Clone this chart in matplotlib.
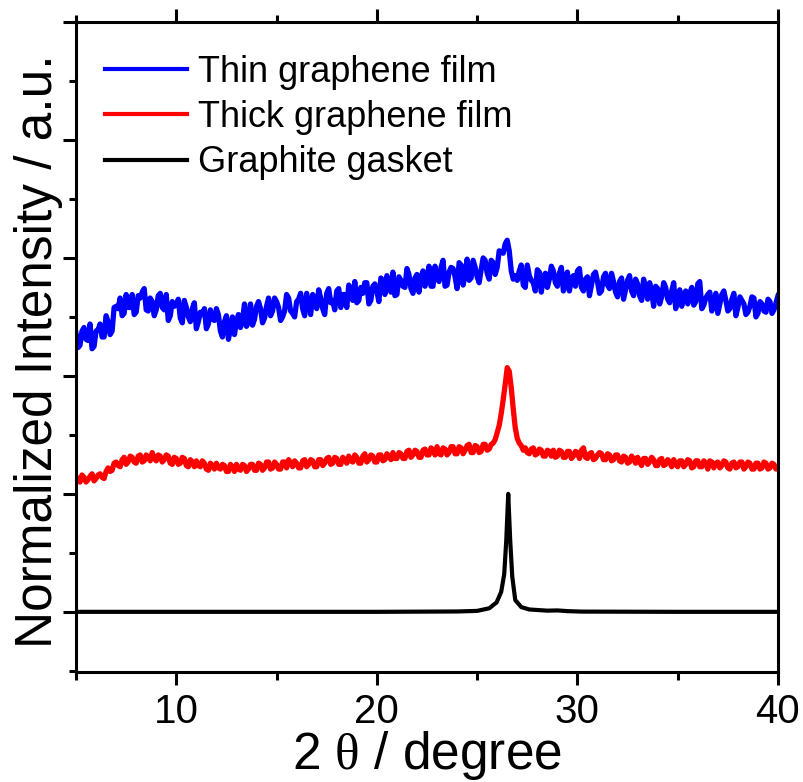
import numpy as np
import matplotlib
matplotlib.use("Agg")
import matplotlib.pyplot as plt

plt.rcParams['font.family'] = ['Liberation Sans', 'DejaVu Sans']
plt.rcParams['mathtext.fontset'] = 'custom'
plt.rcParams['mathtext.rm'] = 'Liberation Serif'
plt.rcParams['mathtext.it'] = 'Liberation Serif'

# ---- data (2theta grid, 0.1 degree step from 5 to 40) ----
x_start, x_step, n_pts = 5.0, 0.1, 351
two_theta = np.round(x_start + x_step * np.arange(n_pts), 2)

thin_film = [
    2.36, 2.24, 2.26, 2.38, 2.41, 2.31, 2.30, 2.44, 2.23, 2.25,
    2.38, 2.39, 2.44, 2.33, 2.33, 2.51, 2.46, 2.35, 2.38, 2.58,
    2.59, 2.57, 2.66, 2.51, 2.53, 2.69, 2.58, 2.58, 2.69, 2.52,
    2.54, 2.68, 2.66, 2.71, 2.74, 2.56, 2.55, 2.66, 2.63, 2.51,
    2.56, 2.68, 2.70, 2.58, 2.56, 2.69, 2.47, 2.51, 2.63, 2.59,
    2.60, 2.65, 2.49, 2.45, 2.64, 2.58, 2.50, 2.46, 2.57, 2.62,
    2.40, 2.46, 2.54, 2.52, 2.57, 2.40, 2.44, 2.56, 2.48, 2.47,
    2.57, 2.52, 2.38, 2.33, 2.46, 2.51, 2.31, 2.40, 2.50, 2.35,
    2.46, 2.52, 2.41, 2.47, 2.61, 2.42, 2.46, 2.61, 2.43, 2.48,
    2.59, 2.63, 2.57, 2.45, 2.49, 2.59, 2.66, 2.51, 2.55, 2.66,
    2.63, 2.58, 2.47, 2.50, 2.55, 2.69, 2.66, 2.55, 2.53, 2.50,
    2.63, 2.65, 2.70, 2.57, 2.51, 2.70, 2.61, 2.52, 2.69, 2.66,
    2.57, 2.73, 2.66, 2.57, 2.52, 2.70, 2.74, 2.62, 2.64, 2.56,
    2.72, 2.74, 2.58, 2.69, 2.69, 2.58, 2.77, 2.73, 2.64, 2.80,
    2.62, 2.64, 2.75, 2.70, 2.79, 2.79, 2.61, 2.64, 2.76, 2.78,
    2.72, 2.63, 2.83, 2.81, 2.69, 2.85, 2.76, 2.71, 2.88, 2.68,
    2.69, 2.84, 2.81, 2.76, 2.75, 2.91, 2.86, 2.74, 2.70, 2.83,
    2.86, 2.71, 2.83, 2.89, 2.76, 2.83, 2.93, 2.76, 2.76, 2.93,
    2.83, 2.80, 2.92, 2.98, 2.76, 2.77, 2.88, 2.92, 2.91, 2.84,
    2.74, 2.96, 2.94, 2.77, 2.86, 2.99, 2.81, 2.83, 2.98, 2.92,
    2.84, 2.79, 2.90, 3.00, 2.98, 2.87, 2.82, 2.98, 2.96, 2.86,
    2.92, 3.06, 3.05, 3.04, 3.12, 3.15, 3.06, 2.89, 2.82, 2.85,
    2.81, 2.89, 2.94, 2.77, 2.75, 2.94, 2.85, 2.81, 2.79, 2.72,
    2.90, 2.88, 2.71, 2.84, 2.87, 2.75, 2.82, 2.93, 2.89, 2.79,
    2.76, 2.87, 2.92, 2.72, 2.78, 2.88, 2.72, 2.82, 2.85, 2.76,
    2.89, 2.91, 2.75, 2.72, 2.82, 2.84, 2.68, 2.77, 2.86, 2.88,
    2.80, 2.70, 2.72, 2.84, 2.87, 2.77, 2.74, 2.87, 2.80, 2.71,
    2.67, 2.80, 2.83, 2.65, 2.73, 2.81, 2.85, 2.72, 2.68, 2.82,
    2.78, 2.68, 2.64, 2.82, 2.74, 2.65, 2.79, 2.72, 2.59, 2.76,
    2.74, 2.61, 2.67, 2.79, 2.75, 2.65, 2.62, 2.72, 2.79, 2.57,
    2.67, 2.73, 2.59, 2.69, 2.72, 2.61, 2.70, 2.75, 2.60, 2.63,
    2.78, 2.80, 2.57, 2.60, 2.66, 2.69, 2.71, 2.55, 2.60, 2.70,
    2.53, 2.61, 2.69, 2.72, 2.64, 2.55, 2.57, 2.65, 2.70, 2.51,
    2.58, 2.67, 2.64, 2.61, 2.52, 2.54, 2.59, 2.67, 2.66, 2.50,
    2.53, 2.63, 2.61, 2.55, 2.54, 2.65, 2.63, 2.53, 2.56, 2.62,
    2.68,
]

thick_film = [
    1.15, 1.11, 1.10, 1.16, 1.14, 1.10, 1.12, 1.15, 1.17, 1.11,
    1.13, 1.16, 1.17, 1.14, 1.13, 1.19, 1.22, 1.19, 1.20, 1.26,
    1.27, 1.24, 1.23, 1.29, 1.31, 1.25, 1.27, 1.32, 1.31, 1.27,
    1.26, 1.32, 1.33, 1.27, 1.28, 1.33, 1.31, 1.28, 1.35, 1.30,
    1.28, 1.33, 1.32, 1.27, 1.29, 1.33, 1.32, 1.26, 1.25, 1.31,
    1.30, 1.25, 1.26, 1.31, 1.30, 1.24, 1.23, 1.29, 1.27, 1.23,
    1.28, 1.24, 1.23, 1.28, 1.26, 1.21, 1.20, 1.26, 1.24, 1.21,
    1.26, 1.22, 1.21, 1.25, 1.24, 1.19, 1.19, 1.25, 1.23, 1.19,
    1.25, 1.21, 1.20, 1.25, 1.24, 1.19, 1.21, 1.25, 1.25, 1.20,
    1.20, 1.26, 1.25, 1.20, 1.22, 1.27, 1.27, 1.21, 1.22, 1.27,
    1.25, 1.21, 1.21, 1.27, 1.27, 1.22, 1.29, 1.26, 1.23, 1.28,
    1.26, 1.22, 1.22, 1.28, 1.29, 1.23, 1.25, 1.29, 1.28, 1.23,
    1.23, 1.29, 1.29, 1.24, 1.26, 1.30, 1.31, 1.25, 1.26, 1.31,
    1.30, 1.25, 1.25, 1.31, 1.29, 1.26, 1.32, 1.28, 1.27, 1.33,
    1.31, 1.26, 1.26, 1.32, 1.34, 1.27, 1.29, 1.33, 1.32, 1.27,
    1.27, 1.33, 1.33, 1.28, 1.29, 1.34, 1.32, 1.29, 1.35, 1.30,
    1.30, 1.35, 1.34, 1.30, 1.30, 1.36, 1.37, 1.31, 1.33, 1.37,
    1.36, 1.31, 1.31, 1.37, 1.38, 1.33, 1.33, 1.39, 1.37, 1.33,
    1.40, 1.34, 1.33, 1.39, 1.38, 1.33, 1.35, 1.40, 1.40, 1.34,
    1.34, 1.40, 1.39, 1.34, 1.37, 1.41, 1.42, 1.35, 1.35, 1.41,
    1.40, 1.35, 1.36, 1.42, 1.42, 1.37, 1.38, 1.42, 1.43, 1.46,
    1.52, 1.58, 1.68, 1.80, 1.93, 2.07, 2.04, 1.90, 1.72, 1.56,
    1.47, 1.43, 1.41, 1.37, 1.39, 1.35, 1.34, 1.38, 1.39, 1.33,
    1.34, 1.38, 1.37, 1.32, 1.32, 1.37, 1.36, 1.32, 1.37, 1.31,
    1.32, 1.37, 1.36, 1.31, 1.31, 1.36, 1.36, 1.30, 1.32, 1.36,
    1.35, 1.30, 1.37, 1.39, 1.31, 1.30, 1.34, 1.35, 1.29, 1.30,
    1.33, 1.35, 1.34, 1.29, 1.29, 1.34, 1.33, 1.28, 1.29, 1.33,
    1.33, 1.28, 1.27, 1.32, 1.31, 1.26, 1.27, 1.32, 1.30, 1.26,
    1.31, 1.27, 1.24, 1.30, 1.30, 1.25, 1.27, 1.31, 1.29, 1.24,
    1.24, 1.29, 1.30, 1.24, 1.25, 1.29, 1.27, 1.23, 1.29, 1.25,
    1.23, 1.28, 1.28, 1.23, 1.25, 1.29, 1.28, 1.22, 1.23, 1.28,
    1.28, 1.23, 1.23, 1.28, 1.26, 1.21, 1.28, 1.27, 1.22, 1.26,
    1.27, 1.22, 1.24, 1.28, 1.27, 1.22, 1.21, 1.26, 1.27, 1.22,
    1.23, 1.27, 1.27, 1.21, 1.23, 1.27, 1.26, 1.21, 1.21, 1.26,
    1.26, 1.21, 1.22, 1.27, 1.26, 1.21, 1.22, 1.26, 1.25, 1.21,
    1.22,
]

gasket_x = [5.0, 10.0, 15.0, 20.0, 24.0, 25.0, 25.6, 25.97, 26.2, 26.35,
            26.45, 26.55, 26.65, 26.75, 26.9, 27.2, 27.6, 28.5, 29.0, 29.5,
            30.2, 35.0, 40.0]
gasket_y = [0.0, 0.0, 0.0, 0.0, 0.003, 0.008, 0.03, 0.08, 0.17, 0.32,
            0.60, 1.00, 0.60, 0.30, 0.10, 0.04, 0.02, 0.01, 0.012, 0.006,
            0.002, 0.0, 0.0]

labels = ["Thin graphene film", "Thick graphene film", "Graphite gasket"]
colors = ["#0000ff", "#ff0000", "#000000"]

x_major = [10, 20, 30, 40]
x_minor = [5, 15, 25, 35]

# ---- figure ----
fig = plt.figure(figsize=(8.04, 7.82), dpi=100)
ax = fig.add_axes([76/804, 1-672/782, (778-76)/804, (672-22)/782])

ax.plot(two_theta, thin_film, color=colors[0], lw=3.8, label=labels[0],
        solid_joinstyle='round')
ax.plot(two_theta, thick_film, color=colors[1], lw=3.8, label=labels[1],
        solid_joinstyle='round')
ax.plot(gasket_x, gasket_y, color=colors[2], lw=3.0, label=labels[2])

ax.set_xlim(5, 40)
ax.set_ylim(-0.51, 5.0)
ax.set_xticks(x_major)
ax.set_xticks(x_minor, minor=True)
ax.set_yticks([0, 1, 2, 3, 4, 5])
ax.set_yticks([-0.5, 0.5, 1.5, 2.5, 3.5, 4.5], minor=True)
ax.set_yticklabels([])

for s in ax.spines.values():
    s.set_linewidth(2.2)

ax.tick_params(which='both', direction='out', width=2.2, top=True,
               right=False, labeltop=False, labelleft=False)
ax.tick_params(which='major', length=9.4, labelsize=29, pad=6)
ax.tick_params(which='minor', length=5.4)

ax.set_xlabel(r"2 $\mathrm{\theta}$ / degree", fontsize=37, labelpad=-2)
ax.set_ylabel("Normalized Intensity / a.u.", fontsize=37)
ax.yaxis.set_label_coords(-0.019, 0.494)

leg = ax.legend(loc='upper left', bbox_to_anchor=((105-76)/702, (672-55)/650),
                frameon=False, fontsize=26, handlelength=2.28,
                handletextpad=0.3, labelspacing=0.28, borderpad=0,
                borderaxespad=0)
for h in leg.get_lines():
    h.set_linewidth(3.0)

fig.savefig("out.png", dpi=100)
